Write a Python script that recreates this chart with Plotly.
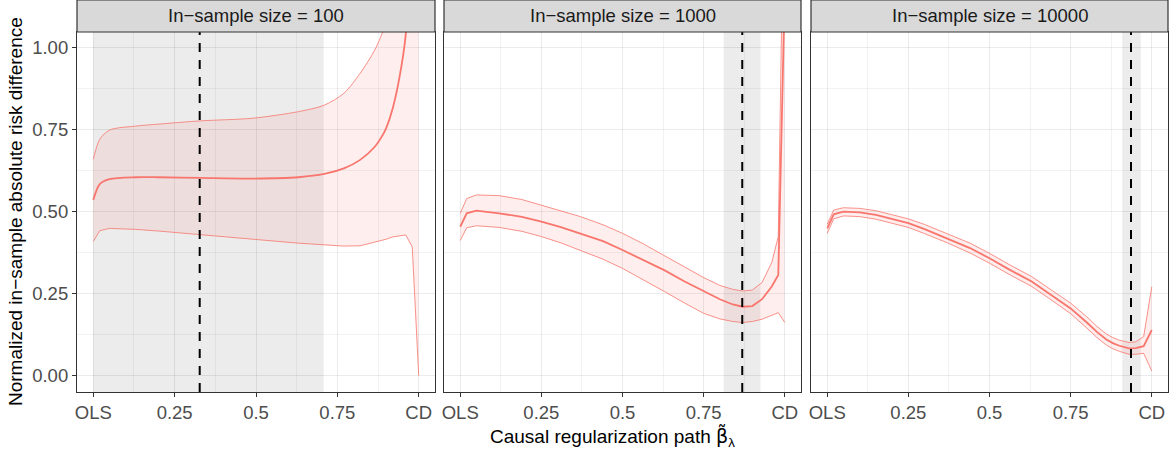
import plotly.graph_objects as go

# ---------------- data ----------------
panel_titles = ["In\u2212sample size = 100", "In\u2212sample size = 1000", "In\u2212sample size = 10000"]

x_p1 = [0, 0.02, 0.05, 0.13, 0.2, 0.33, 0.49, 0.63, 0.71, 0.77, 0.82, 0.865, 0.89, 0.9, 0.92, 0.94, 0.96, 0.98, 1.0]
mid_p1 = [0.536, 0.584, 0.599, 0.605, 0.605, 0.603, 0.601, 0.605, 0.615, 0.632, 0.658, 0.698, 0.735, 0.755, 0.815, 0.905, 1.04, 1.6, 2.5]
upp_p1 = [0.660, 0.721, 0.749, 0.761, 0.767, 0.777, 0.785, 0.805, 0.825, 0.861, 0.922, 0.993, 1.05, 1.08, 1.2, 1.4, 1.7, 2.2, 3.0]
low_p1 = [0.409, 0.442, 0.449, 0.446, 0.441, 0.429, 0.416, 0.404, 0.398, 0.395, 0.396, 0.406, 0.413, 0.416, 0.423, 0.427, 0.429, 0.393, 0.0]

x_p2 = [0, 0.02, 0.05, 0.12, 0.19, 0.25, 0.31, 0.37, 0.44, 0.5, 0.56, 0.63, 0.69, 0.75, 0.8, 0.84, 0.87, 0.9, 0.93, 0.96, 0.98, 1.0]
mid_p2 = [0.454, 0.495, 0.503, 0.495, 0.484, 0.470, 0.453, 0.434, 0.410, 0.383, 0.355, 0.321, 0.288, 0.258, 0.233, 0.217, 0.210, 0.212, 0.233, 0.272, 0.307, 1.18]
upp_p2 = [0.495, 0.540, 0.551, 0.549, 0.537, 0.520, 0.503, 0.485, 0.460, 0.434, 0.404, 0.366, 0.332, 0.299, 0.275, 0.263, 0.258, 0.261, 0.284, 0.345, 0.424, 1.70]
low_p2 = [0.412, 0.451, 0.457, 0.452, 0.440, 0.424, 0.405, 0.383, 0.355, 0.327, 0.295, 0.256, 0.222, 0.190, 0.173, 0.165, 0.162, 0.165, 0.172, 0.183, 0.192, 0.162]

x_p3 = [0, 0.02, 0.05, 0.1, 0.15, 0.2, 0.25, 0.3, 0.37, 0.44, 0.5, 0.56, 0.63, 0.69, 0.75, 0.8, 0.83, 0.86, 0.88, 0.9, 0.93, 0.95, 0.975, 1.0]
mid_p3 = [0.449, 0.492, 0.500, 0.498, 0.490, 0.478, 0.465, 0.447, 0.419, 0.389, 0.358, 0.324, 0.287, 0.246, 0.205, 0.162, 0.134, 0.110, 0.099, 0.091, 0.083, 0.084, 0.090, 0.139]
upp_p3 = [0.462, 0.505, 0.512, 0.510, 0.503, 0.491, 0.478, 0.461, 0.433, 0.404, 0.373, 0.339, 0.302, 0.262, 0.221, 0.179, 0.151, 0.127, 0.116, 0.108, 0.101, 0.103, 0.119, 0.271]
low_p3 = [0.434, 0.478, 0.487, 0.485, 0.477, 0.465, 0.452, 0.433, 0.405, 0.374, 0.343, 0.309, 0.272, 0.231, 0.189, 0.145, 0.117, 0.093, 0.082, 0.074, 0.065, 0.065, 0.068, 0.014]

selected_lambda = [0.327, 0.869, 0.936]
band_lo = [0.0, 0.812, 0.909]
band_hi = [0.708, 0.925, 0.966]

x_tickvals = [0, 0.25, 0.5, 0.75, 1.0]
x_ticktext = ["OLS", "0.25", "0.5", "0.75", "CD"]
y_tickvals = [0, 0.25, 0.5, 0.75, 1.0]
y_ticktext = ["0.00", "0.25", "0.50", "0.75", "1.00"]

# ---------------- figure ----------------
W, H = 1172, 453
ML, MR, MT, MB = 77, 4, 32, 61
plot_w = W - ML - MR
plot_h = H - MT - MB
px_dom = [(77, 435), (444, 801), (811, 1168)]
domains = [[(a - ML) / plot_w, (b - ML) / plot_w] for a, b in px_dom]

RED = "#F8766D"
FONT = "Liberation Sans, Arial, sans-serif"

fig = go.Figure()
panels = [(x_p1, mid_p1, upp_p1, low_p1), (x_p2, mid_p2, upp_p2, low_p2), (x_p3, mid_p3, upp_p3, low_p3)]
for i, (xs, m, u, l) in enumerate(panels):
    xa = "x" if i == 0 else f"x{i+1}"
    ya = "y" if i == 0 else f"y{i+1}"
    smooth = "spline" if i == 0 else "linear"
    fig.add_trace(go.Scatter(x=xs, y=l, mode="lines", line=dict(color=RED, width=0.8),
                             xaxis=xa, yaxis=ya, showlegend=False, hoverinfo="skip"))
    fig.add_trace(go.Scatter(x=xs, y=u, mode="lines", line=dict(color=RED, width=0.8, shape=smooth, smoothing=0.8),
                             fill="tonexty", fillcolor="rgba(248,118,109,0.12)",
                             xaxis=xa, yaxis=ya, showlegend=False, hoverinfo="skip"))
    fig.add_trace(go.Scatter(x=xs, y=m, mode="lines", line=dict(color=RED, width=1.8, shape=smooth, smoothing=0.8),
                             xaxis=xa, yaxis=ya, showlegend=False))

shapes = []
annotations = []
for i in range(3):
    xr = "x" if i == 0 else f"x{i+1}"
    yr = "y" if i == 0 else f"y{i+1}"
    shapes.append(dict(type="rect", xref=xr, yref=yr, x0=band_lo[i], x1=band_hi[i], y0=-0.05, y1=1.048,
                       fillcolor="rgba(127,127,127,0.15)", line=dict(width=0), layer="below"))
    shapes.append(dict(type="line", xref=xr, yref=yr, x0=selected_lambda[i], x1=selected_lambda[i],
                       y0=-0.05, y1=1.048,
                       line=dict(color="black", width=2, dash="9px,8px"), layer="above"))
    # strip
    shapes.append(dict(type="rect", xref="paper", yref="paper", x0=domains[i][0], x1=domains[i][1],
                       y0=1, y1=1 + 32 / plot_h, fillcolor="#D9D9D9", line=dict(color="#333333", width=1.2),
                       layer="above"))
    annotations.append(dict(text=panel_titles[i], xref="paper", yref="paper",
                            x=(domains[i][0] + domains[i][1]) / 2, y=1 + 16 / plot_h,
                            xanchor="center", yanchor="middle", showarrow=False,
                            font=dict(size=18.5, color="#1A1A1A", family=FONT)))

annotations.append(dict(text="Causal regularization path <span style=\"font-family:DejaVu Sans\">\u03b2\u0303</span><sub>\u03bb</sub>",
                        xref="paper", yref="paper",
                        x=(612 - ML) / plot_w, y=-(436 - (MT + plot_h)) / plot_h, xanchor="center", yanchor="middle",
                        showarrow=False, font=dict(size=19, color="black", family=FONT)))
annotations.append(dict(text="Normalized in\u2212sample absolute risk difference", xref="paper", yref="paper",
                        x=-(77 - 15) / plot_w, y=(392 - 212) / plot_h, xanchor="center", yanchor="middle",
                        textangle=-90, showarrow=False, font=dict(size=19, color="black", family=FONT)))

axis_common = dict(showline=True, linecolor="#333333", linewidth=1.2, mirror=True,
                   showgrid=True, gridcolor="rgba(0,0,0,0.08)", gridwidth=1.1, zeroline=False,
                   ticks="outside", ticklen=4, tickcolor="#333333", tickwidth=1.1,
                   tickfont=dict(size=18.5, color="#4D4D4D", family=FONT))
minor_grid = dict(tickmode="array", tickvals=[0.125, 0.375, 0.625, 0.875],
                  showgrid=True, gridcolor="rgba(0,0,0,0.05)", gridwidth=0.6, ticks="")

layout = dict(width=W, height=H, margin=dict(l=ML, r=MR, t=MT, b=MB, autoexpand=False),
              plot_bgcolor="white", paper_bgcolor="white",
              shapes=shapes, annotations=annotations, showlegend=False)
for i in range(3):
    xk = "xaxis" if i == 0 else f"xaxis{i+1}"
    yk = "yaxis" if i == 0 else f"yaxis{i+1}"
    ya = "y" if i == 0 else f"y{i+1}"
    xa = "x" if i == 0 else f"x{i+1}"
    layout[xk] = dict(axis_common, domain=domains[i], range=[-0.05, 1.05], anchor=ya,
                      tickmode="array", tickvals=x_tickvals, ticktext=x_ticktext, minor=minor_grid)
    layout[yk] = dict(axis_common, domain=[0, 1], range=[-0.05, 1.048], anchor=xa,
                      tickmode="array", tickvals=y_tickvals, ticktext=y_ticktext,
                      showticklabels=(i == 0), ticks="outside" if i == 0 else "", minor=minor_grid)
fig.update_layout(**layout)
fig.write_html("out.html", config={"displayModeBar": False},
               post_script="document.body.style.margin='0';document.body.style.overflow='hidden';")
